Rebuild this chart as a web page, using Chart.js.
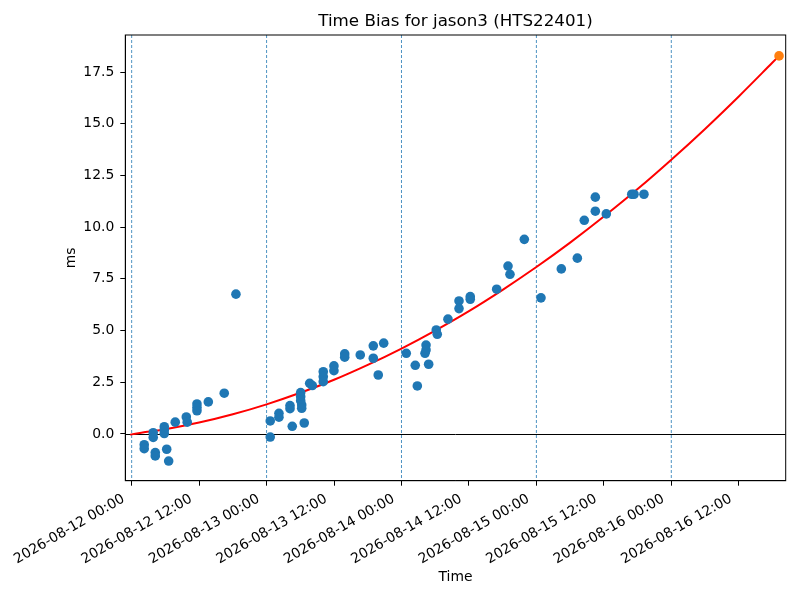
<!DOCTYPE html>
<html>
<head>
<meta charset="utf-8">
<script src="https://cdn.jsdelivr.net/npm/chart.js@4.4.1/dist/chart.umd.min.js"></script>
<style>
  html, body { margin: 0; padding: 0; background: #fff; }
  #wrap { width: 800px; height: 600px; }
</style>
</head>
<body>
<div id="wrap"><canvas id="chart" width="800" height="600"></canvas></div>
<script>
// measured time bias samples (UTC)
const pointTimes = [
  '2026-08-12 02:14', '2026-08-12 02:14', '2026-08-12 03:50', '2026-08-12 03:50',
  '2026-08-12 04:12', '2026-08-12 04:12', '2026-08-12 05:48', '2026-08-12 05:48',
  '2026-08-12 05:48', '2026-08-12 06:14', '2026-08-12 06:35', '2026-08-12 07:45',
  '2026-08-12 09:43', '2026-08-12 09:53', '2026-08-12 11:37', '2026-08-12 11:37',
  '2026-08-12 11:37', '2026-08-12 13:38', '2026-08-12 16:28', '2026-08-12 18:33',
  '2026-08-13 00:39', '2026-08-13 00:39', '2026-08-13 02:12', '2026-08-13 02:12',
  '2026-08-13 04:10', '2026-08-13 04:10', '2026-08-13 04:34', '2026-08-13 06:04',
  '2026-08-13 06:04', '2026-08-13 06:04', '2026-08-13 06:15', '2026-08-13 06:15',
  '2026-08-13 06:42', '2026-08-13 07:40', '2026-08-13 08:08', '2026-08-13 10:05',
  '2026-08-13 10:05', '2026-08-13 10:05', '2026-08-13 11:59', '2026-08-13 11:59',
  '2026-08-13 13:54', '2026-08-13 13:54', '2026-08-13 16:40', '2026-08-13 18:59',
  '2026-08-13 18:59', '2026-08-13 19:52', '2026-08-13 20:50',
  '2026-08-14 00:51', '2026-08-14 02:27', '2026-08-14 02:49', '2026-08-14 04:11',
  '2026-08-14 04:22', '2026-08-14 04:22', '2026-08-14 04:50', '2026-08-14 06:11',
  '2026-08-14 06:22', '2026-08-14 08:16', '2026-08-14 10:14', '2026-08-14 10:14',
  '2026-08-14 12:14', '2026-08-14 12:14', '2026-08-14 16:56', '2026-08-14 18:57',
  '2026-08-14 19:18', '2026-08-14 21:51',
  '2026-08-15 00:49', '2026-08-15 04:26', '2026-08-15 07:17', '2026-08-15 08:31',
  '2026-08-15 10:29', '2026-08-15 10:29', '2026-08-15 12:26', '2026-08-15 16:58',
  '2026-08-15 17:22', '2026-08-15 19:08'
];
const pointValues = [
  -0.52, -0.71, 0.06, -0.17,
  -0.90, -1.06, 0.35, 0.19,
  0.02, -0.74, -1.31, 0.57,
  0.82, 0.57, 1.45, 1.28,
  1.12, 1.55, 1.97, 6.76,
  -0.15, 0.63, 1.00, 0.81,
  1.37, 1.22, 0.37, 2.00,
  1.80, 1.61, 1.40, 1.24,
  0.53, 2.45, 2.34, 3.01,
  2.77, 2.53, 3.29, 3.06,
  3.87, 3.71, 3.82, 4.26,
  3.66, 2.85, 4.39,
  3.90, 3.32, 2.32, 3.90,
  4.30, 4.06, 3.37, 5.03,
  4.82, 5.55, 6.43, 6.06,
  6.64, 6.51, 7.00, 8.12,
  7.72, 9.41,
  6.58, 7.98, 8.50, 10.33,
  11.45, 10.77, 10.64, 11.59,
  11.59, 11.59
];

// fitted trend (red line)
const fitTimes = [
  '2026-08-11 23:45', '2026-08-12 00:00', '2026-08-12 06:00', '2026-08-12 12:00', '2026-08-12 18:00',
  '2026-08-13 00:00', '2026-08-13 06:00', '2026-08-13 12:00', '2026-08-13 18:00',
  '2026-08-14 00:00', '2026-08-14 06:00', '2026-08-14 12:00', '2026-08-14 18:00',
  '2026-08-15 00:00', '2026-08-15 06:00', '2026-08-15 12:00', '2026-08-15 18:00',
  '2026-08-16 00:00', '2026-08-16 06:00', '2026-08-16 12:00', '2026-08-16 18:00', '2026-08-16 19:10'
];
const fitValues = [
  -0.04, -0.02, 0.23, 0.55, 0.95,
  1.43, 1.99, 2.62, 3.34,
  4.13, 5.00, 5.94, 6.97,
  8.07, 9.25, 10.51, 11.84,
  13.26, 14.75, 16.32, 17.96, 18.28
];

// predicted point (orange)
const predTimes = ['2026-08-16 19:10'];
const predValues = [18.28];

const xTickLabels = [
  '2026-08-12 00:00', '2026-08-12 12:00', '2026-08-13 00:00', '2026-08-13 12:00',
  '2026-08-14 00:00', '2026-08-14 12:00', '2026-08-15 00:00', '2026-08-15 12:00',
  '2026-08-16 00:00', '2026-08-16 12:00'
];
const dayLines = ['2026-08-12 00:00', '2026-08-13 00:00', '2026-08-14 00:00', '2026-08-15 00:00', '2026-08-16 00:00'];
const yTicks = [0, 2.5, 5, 7.5, 10, 12.5, 15, 17.5];
const xLimits = ['2026-08-11 22:52', '2026-08-16 20:21'];
const yLimits = [-2.26, 19.29];

const toMs = s => Date.parse(s.replace(' ', 'T') + ':00Z');
const fmtTime = v => new Date(v).toISOString().slice(0, 16).replace('T', ' ');
const pairs = (ts, vs) => ts.map((t, i) => ({x: toMs(t), y: vs[i]}));

const FONT = 'DejaVu Sans';
const tickFont = {family: FONT, size: 13.9};

const decor = {
  id: 'decor',
  beforeDatasetsDraw(chart) {
    const {ctx, chartArea: a, scales: {x, y}} = chart;
    ctx.save();
    ctx.beginPath();
    ctx.rect(a.left, a.top, a.width, a.height);
    ctx.clip();
    ctx.strokeStyle = '#1f77b4';
    ctx.lineWidth = 0.8;
    ctx.setLineDash([3, 2]);
    dayLines.forEach(s => {
      const px = x.getPixelForValue(toMs(s));
      ctx.beginPath();
      ctx.moveTo(px, a.top);
      ctx.lineTo(px, a.bottom);
      ctx.stroke();
    });
    ctx.setLineDash([]);
    ctx.strokeStyle = '#000';
    ctx.lineWidth = 1;
    const py = Math.round(y.getPixelForValue(0)) + 0.5;
    ctx.beginPath();
    ctx.moveTo(a.left, py);
    ctx.lineTo(a.right, py);
    ctx.stroke();
    ctx.restore();
  },
  afterDraw(chart) {
    const {ctx, chartArea: a} = chart;
    ctx.save();
    ctx.strokeStyle = '#000';
    ctx.lineWidth = 1;
    ctx.strokeRect(a.left, a.top, a.width, a.height);
    ctx.fillStyle = '#000';
    ctx.font = '16.7px "' + FONT + '"';
    ctx.textAlign = 'center';
    ctx.textBaseline = 'middle';
    ctx.fillText('Time Bias for jason3 (HTS22401)', (a.left + a.right) / 2, 21.5);
    ctx.restore();
  }
};

new Chart(document.getElementById('chart'), {
  type: 'scatter',
  data: {
    datasets: [
      {
        data: pairs(pointTimes, pointValues),
        backgroundColor: '#1f77b4',
        borderWidth: 0,
        pointRadius: 4.8,
        order: 1
      },
      {
        type: 'line',
        data: pairs(fitTimes, fitValues),
        borderColor: '#ff0000',
        borderWidth: 2,
        pointRadius: 0,
        cubicInterpolationMode: 'monotone',
        order: 2
      },
      {
        data: pairs(predTimes, predValues),
        backgroundColor: '#ff7f0e',
        borderWidth: 0,
        pointRadius: 4.8,
        order: 0
      }
    ]
  },
  options: {
    responsive: false,
    animation: false,
    events: [],
    layout: {padding: {left: 0, right: 14.3, top: 35, bottom: 0}},
    plugins: {
      legend: {display: false},
      title: {display: false},
      tooltip: {enabled: false}
    },
    scales: {
      x: {
        type: 'linear',
        min: toMs(xLimits[0]),
        max: toMs(xLimits[1]),
        afterBuildTicks: scale => { scale.ticks = xTickLabels.map(s => ({value: toMs(s)})); },
        afterFit: scale => { scale.height = 119.3; },
        grid: {drawOnChartArea: false, drawTicks: true, tickLength: 5, tickColor: '#000', tickWidth: 1},
        border: {display: true, color: '#000', width: 1},
        ticks: {
          autoSkip: false,
          minRotation: 30,
          maxRotation: 30,
          padding: 5,
          labelOffset: -8,
          color: '#000',
          font: tickFont,
          callback: v => fmtTime(v)
        },
        title: {display: true, text: 'Time', color: '#000', font: tickFont, padding: {top: 0, bottom: 14.2}}
      },
      y: {
        type: 'linear',
        min: yLimits[0],
        max: yLimits[1],
        afterBuildTicks: scale => { scale.ticks = yTicks.map(v => ({value: v})); },
        afterFit: scale => { scale.width = 125.3; },
        grid: {drawOnChartArea: false, drawTicks: true, tickLength: 5, tickColor: '#000', tickWidth: 1},
        border: {display: true, color: '#000', width: 1},
        ticks: {
          padding: 6,
          color: '#000',
          font: tickFont,
          callback: v => v.toFixed(1)
        },
        title: {display: true, text: 'ms', color: '#000', font: tickFont, padding: {top: 62.7, bottom: 0}}
      }
    }
  },
  plugins: [decor]
});
</script>
</body>
</html>
